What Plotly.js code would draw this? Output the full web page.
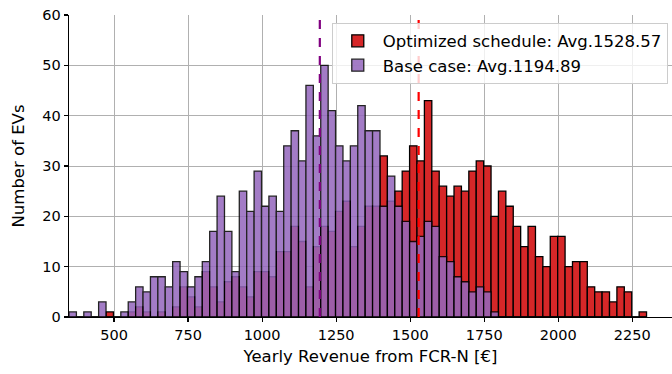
<!DOCTYPE html>
<html>
<head>
<meta charset="utf-8">
<script src="https://cdn.plot.ly/plotly-3.0.1.min.js"></script>
<style>html,body{margin:0;padding:0;background:#fff;}#chart{width:672px;height:374px;}</style>
</head>
<body>
<div id="chart"></div>
<script>
// Histogram bins (Yearly revenue, €)
const binStart = 348;
const binWidth = 25;
// Counts per bin
const optimizedCounts = [0,0,0,0,0,1,0,0,1,2,1,0,1,0,2,
  6,4,2,9,6,3,7,8,6,4,9,9,8,
  13,13,18,15,6,14,18,17,21,23,14,18,22,22,
  32,23,25,29,34,31,43,29,26,24,26,25,29,31,30,20,
  25,22,18,14,18,12,10,16,16,10,11,11,6,5,5,3,6,5,0,1];
const baseCounts = [1,0,1,0,3,0,0,1,3,6,5,8,8,6,11,
  9,6,8,11,17,24,17,9,25,21,29,22,24,
  21,34,37,31,46,36,50,41,34,31,34,42,37,37,
  22,28,22,19,15,16,19,18,12,11,8,7,5,6,5,1,
  0,0,0,0,0,0,0,0,0,0,0,0,0,0,0,0,0,0,0,0];
const optimizedAvg = 1528.57;
const baseAvg = 1194.89;
const seriesNames = ["Optimized schedule: Avg.1528.57", "Base case: Avg.1194.89"];
const xTicks = [500,750,1000,1250,1500,1750,2000,2250];
const yTicks = [0,10,20,30,40,50,60];

const binCenters = optimizedCounts.map((_, i) => binStart + binWidth * (i + 0.5));

const traces = [
  {type:'bar', x: binCenters, y: optimizedCounts, width: binWidth, name: seriesNames[0],
   marker:{color:'#d62728', line:{color:'#000', width:1.3}}},
  {type:'bar', x: binCenters, y: baseCounts, width: binWidth, name: seriesNames[1],
   marker:{color:'#9467bd', line:{color:'#000', width:1.3}}, opacity:0.86}
];

const layout = {
  width:672, height:374,
  margin:{l:69, r:0, t:15, b:57},
  paper_bgcolor:'#fff', plot_bgcolor:'#fff',
  font:{family:'DejaVu Sans, sans-serif', size:14, color:'#000'},
  barmode:'overlay', bargap:0,
  showlegend:true,
  legend:{x:0.993, xanchor:'right', y:0.975, yanchor:'top',
          bgcolor:'rgba(255,255,255,0.8)', bordercolor:'#cccccc', borderwidth:1,
          font:{size:16.5}, traceorder:'normal', tracegroupgap:0, itemwidth:40},
  xaxis:{range:[348, 2384], tickvals:xTicks, ticktext:xTicks.map(String),
         ticks:'outside', ticklen:4, tickwidth:1.2, tickcolor:'#000',
         tickfont:{size:14.5},
         showline:true, linecolor:'#000', linewidth:1.3,
         showgrid:true, gridcolor:'#b0b0b0', gridwidth:1, zeroline:false,
         title:{text:'Yearly Revenue from FCR-N [€]', font:{size:16.5}, standoff:8}},
  yaxis:{range:[0,60], tickvals:yTicks, ticktext:yTicks.map(String),
         ticks:'outside', ticklen:4, tickwidth:1.2, tickcolor:'#000',
         tickfont:{size:14.5},
         showline:true, linecolor:'#000', linewidth:1.3,
         showgrid:true, gridcolor:'#b0b0b0', gridwidth:1, zeroline:false,
         title:{text:'Number of EVs', font:{size:16.5}, standoff:13}},
  shapes:[
    {type:'line', xref:'x', yref:'paper', x0:baseAvg, x1:baseAvg, y0:0, y1:1,
     line:{color:'#800080', width:2.2, dash:'dash'}},
    {type:'line', xref:'x', yref:'paper', x0:optimizedAvg, x1:optimizedAvg, y0:0, y1:1,
     line:{color:'#ff0000', width:2.2, dash:'dash'}}
  ]
};

Plotly.newPlot('chart', traces, layout, {displayModeBar:false, staticPlot:true});
</script>
</body>
</html>
